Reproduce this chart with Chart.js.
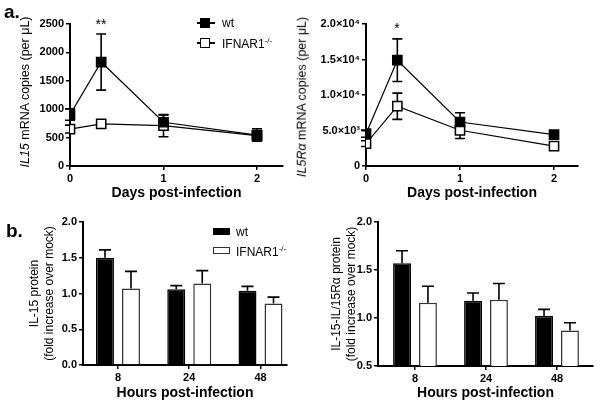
<!DOCTYPE html>
<html>
<head>
<meta charset="utf-8">
<script src="https://cdn.jsdelivr.net/npm/chart.js@4"></script>
<style>
  body { margin: 0; background: #fff; }
  #wrap { position: relative; width: 600px; height: 407px; font-family: "Liberation Sans", Arial, sans-serif; color: #000; overflow: hidden; }
  canvas { position: absolute; }
  .t { position: absolute; white-space: nowrap; line-height: 1; }
  .rot { transform: translate(-50%, -50%) rotate(-90deg); font-size: 12.5px; }
  .lab { font-size: 12px; transform: translateY(-50%); }
  .lab sup { font-size: 8px; vertical-align: 5px; }
  .box { position: absolute; box-sizing: border-box; }
</style>
</head>
<body>
<div id="wrap">
  <canvas id="a1" width="300" height="200" style="left:0;top:0"></canvas>
  <canvas id="a2" width="300" height="200" style="left:300px;top:0"></canvas>
  <canvas id="b1" width="300" height="207" style="left:0;top:200px"></canvas>
  <canvas id="b2" width="300" height="207" style="left:300px;top:200px"></canvas>

  <div class="t" style="left:4px;top:2px;font-size:19px;font-weight:bold">a.</div>
  <div class="t" style="left:6px;top:221px;font-size:19px;font-weight:bold">b.</div>

  <div class="t rot" style="left:25px;top:92px"><i>IL15</i> mRNA copies (per μL)</div>
  <div class="t rot" style="left:302px;top:97px"><i>IL5Rα</i> mRNA copies (per μL)</div>

  <div class="t" style="left:101px;top:17px;font-size:14px;transform:translateX(-50%)">**</div>
  <div class="t" style="left:397px;top:21px;font-size:14px;transform:translateX(-50%)">*</div>

  <!-- legend panel a -->
  <div class="box" style="left:197px;top:22px;width:18px;height:1.5px;background:#000"></div>
  <div class="box" style="left:200px;top:18px;width:10px;height:10px;background:#000"></div>
  <div class="t lab" style="left:222px;top:23px">wt</div>
  <div class="box" style="left:197px;top:42px;width:18px;height:1.5px;background:#000"></div>
  <div class="box" style="left:200px;top:38px;width:10px;height:10px;background:#fff;border:1.5px solid #000"></div>
  <div class="t lab" style="left:222px;top:43px">IFNAR1<sup>-/-</sup></div>

  <!-- legend panel b -->
  <div class="box" style="left:213px;top:228px;width:17px;height:7px;background:#000"></div>
  <div class="t lab" style="left:236px;top:232px">wt</div>
  <div class="box" style="left:213px;top:247px;width:17px;height:7px;background:#fff;border:1px solid #333"></div>
  <div class="t lab" style="left:236px;top:251px">IFNAR1<sup>-/-</sup></div>
</div>

<script>
// time points in days (8 h = 1/3 day)
const lineDays = [0, 1 / 3, 1, 2];
const dayLabels = ['0', '1', '2'];

const il15Wt = [905, 1830, 770, 545];
const il15WtErr = [100, 495, 130, 110];
const il15Ko = [650, 740, 710, 535];
const il15KoErr = [70, 60, 195, 80];

const il15raWt = [4550, 14900, 6200, 4420];
const il15raWtErr = [500, 3000, 1300, 200];
const il15raKo = [3150, 8420, 5030, 2800];
const il15raKoErr = [400, 1850, 1150, 200];

const hourLabels = ['8', '24', '48'];
const protWt = [1.50, 1.06, 1.04];
const protWtErr = [0.11, 0.05, 0.06];
const protKo = [1.07, 1.14, 0.86];
const protKoErr = [0.24, 0.18, 0.09];

const cplxWt = [1.57, 1.18, 1.02];
const cplxWtErr = [0.13, 0.08, 0.07];
const cplxKo = [1.16, 1.19, 0.87];
const cplxKoErr = [0.17, 0.17, 0.08];

const FONT = '"Liberation Sans", Arial, sans-serif';

const errorBars = {
  id: 'errorBars',
  beforeDatasetsDraw(chart, args, opts) {
    const ctx = chart.ctx;
    const ys = chart.scales.y;
    chart.data.datasets.forEach((ds, i) => {
      const meta = chart.getDatasetMeta(i);
      meta.data.forEach((el, j) => {
        const v = ds.data[j].y;
        const e = ds.err[j];
        const top = ys.getPixelForValue(v + e);
        const bot = opts.upOnly ? el.y : ys.getPixelForValue(v - e);
        ctx.save();
        ctx.strokeStyle = '#000';
        ctx.lineWidth = 1.6;
        ctx.beginPath();
        ctx.moveTo(el.x, top);
        ctx.lineTo(el.x, bot);
        ctx.moveTo(el.x - opts.cap, top);
        ctx.lineTo(el.x + opts.cap, top);
        if (!opts.upOnly) {
          ctx.moveTo(el.x - opts.cap, bot);
          ctx.lineTo(el.x + opts.cap, bot);
        }
        ctx.stroke();
        ctx.restore();
      });
    });
  }
};

function toPoints(xs, ys) {
  return ys.map((v, i) => ({ x: xs[i], y: v }));
}

function sciLabel(v) {
  if (v === 0) return '0';
  const sup = ['⁰', '¹', '²', '³', '⁴', '⁵', '⁶'];
  const exp = Math.floor(Math.log10(v) + 1e-9);
  return (v / Math.pow(10, exp)).toFixed(1) + '×10' + sup[exp];
}

function yAxis(min, max, step, width, fmt, title) {
  return {
    min: min,
    max: max,
    ticks: { stepSize: step, color: '#000', padding: 2, font: { family: FONT, size: 11, weight: 'bold' }, callback: fmt },
    grid: { drawOnChartArea: false, drawTicks: true, tickLength: 4, color: '#000', lineWidth: 1.5 },
    border: { color: '#000', width: 2 },
    title: title
      ? { display: true, text: title, color: '#000', font: { family: FONT, size: 12, lineHeight: 1.25 }, padding: { top: 2.5, bottom: 0 } }
      : { display: false },
    afterFit: s => { s.width = width; }
  };
}

function xAxis(min, max, labels, title, height, titlePad) {
  return {
    type: 'linear',
    min: min,
    max: max,
    offset: false,
    afterBuildTicks: s => { s.ticks = [0, 1, 2].map(v => ({ value: v })); },
    ticks: { color: '#000', padding: 2, font: { family: FONT, size: 11, weight: 'bold' }, callback: (v, i) => labels[i] },
    grid: { offset: false, drawOnChartArea: false, drawTicks: true, tickLength: 4, color: '#000', lineWidth: 1.5 },
    border: { color: '#000', width: 2 },
    title: { display: true, text: title, color: '#000', font: { family: FONT, size: 14, weight: 'bold', lineHeight: 1 }, padding: { top: 0, bottom: titlePad } },
    afterFit: s => { s.height = height; }
  };
}

function lineSet(data, err, fill) {
  return {
    data: data,
    err: err,
    borderColor: '#000',
    borderWidth: 1.2,
    tension: 0,
    pointStyle: 'rect',
    pointRadius: 6.5,
    pointBorderWidth: 1.5,
    pointBorderColor: '#000',
    pointBackgroundColor: fill
  };
}

function barSet(data, err, fill, border) {
  return {
    data: data,
    err: err,
    backgroundColor: fill,
    borderColor: border,
    borderWidth: 1.5,
    categoryPercentage: 0.73,
    barPercentage: 0.69
  };
}

const baseOpts = {
  responsive: false,
  animation: false,
  events: [],
  plugins: { legend: { display: false }, tooltip: { enabled: false } }
};

function lineChart(id, wt, wtErr, ko, koErr, yCfg, xMax, padRight) {
  new Chart(document.getElementById(id), {
    type: 'line',
    data: {
      datasets: [
        lineSet(toPoints(lineDays, wt), wtErr, '#000'),
        lineSet(toPoints(lineDays, ko), koErr, '#fff')
      ]
    },
    options: {
      ...baseOpts,
      layout: { padding: { left: 0, right: padRight, top: 24, bottom: 0 } },
      plugins: { ...baseOpts.plugins, errorBars: { cap: 5, upOnly: false } },
      scales: {
        x: xAxis(0, xMax, dayLabels, 'Days post-infection', 34, 0),
        y: yCfg
      }
    },
    plugins: [errorBars]
  });
}

function barChart(id, wt, wtErr, ko, koErr, yCfg, xMin, xMax, pad, xHeight) {
  new Chart(document.getElementById(id), {
    type: 'bar',
    data: {
      datasets: [
        barSet(toPoints([0, 1, 2], wt), wtErr, '#000', '#000'),
        barSet(toPoints([0, 1, 2], ko), koErr, '#fff', '#333')
      ]
    },
    options: {
      ...baseOpts,
      layout: { padding: pad },
      plugins: { ...baseOpts.plugins, errorBars: { cap: 6, upOnly: true } },
      scales: {
        x: xAxis(xMin, xMax, hourLabels, 'Hours post-infection', xHeight, 7),
        y: yCfg
      }
    },
    plugins: [errorBars]
  });
}

lineChart('a1', il15Wt, il15WtErr, il15Ko, il15KoErr,
  yAxis(0, 2500, 500, 70, v => String(v), null), 2.278, 17);

lineChart('a2', il15raWt, il15raWtErr, il15raKo, il15raKoErr,
  yAxis(0, 20000, 5000, 66, v => sciLabel(v), null), 2.255, 22);

barChart('b1', protWt, protWtErr, protKo, protKoErr,
  yAxis(0, 2, 0.5, 58, v => v.toFixed(1), ['IL-15 protein', '(fold increase over mock)']),
  -0.491, 2.372, { left: 25, right: 13, top: 22, bottom: 0 }, 42);

barChart('b2', cplxWt, cplxWtErr, cplxKo, cplxKoErr,
  yAxis(0.5, 2, 0.5, 51, v => v.toFixed(1), ['IL-15-IL/15Rα protein', '(fold increase over mock)']),
  -0.521, 2.507, { left: 27, right: 7, top: 22, bottom: 0 }, 41);
</script>
</body>
</html>
